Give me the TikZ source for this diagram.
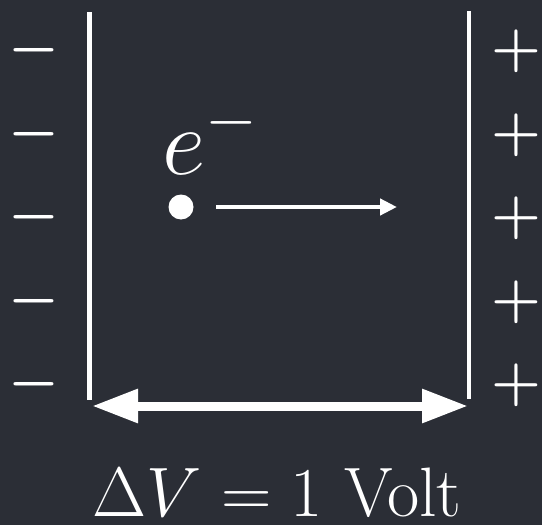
\RequirePackage{fix-cm}
\documentclass[tikz,border=0pt]{standalone}
\usepackage{amsmath}
\usetikzlibrary{arrows.meta}
\definecolor{board}{RGB}{43,46,54}

\begin{document}
\begin{tikzpicture}[
  x=1pt,y=-1pt,
  plate/.style={draw=white,line width=4.5pt},
  charge/.style={text=white,inner sep=0pt,anchor=base,
    font=\fontsize{57}{57}\selectfont\boldmath},
  span/.style={draw=white,line width=9pt,
    arrows={Triangle[length=46pt,width=32pt]-Triangle[length=46pt,width=32pt]}},
  motion/.style={draw=white,line width=4.5pt,
    arrows={-Triangle[length=17pt,width=16pt]}},
  >=Stealth
]
  % Board and fixed frame.
  \fill[board] (0,0) rectangle (542,525);
  \useasboundingbox (0,0) rectangle (542,525);

  % Plates.
  \coordinate (lefttop) at (89.5,12);
  \coordinate (leftbot) at (89.5,400);
  \coordinate (righttop) at (469,11);
  \coordinate (rightbot) at (469,399);
  \draw[plate] (lefttop) -- (leftbot);
  \draw[plate] (righttop) -- (rightbot);

  % Charges on both sides.
  \foreach \i in {0,...,4} {
    \node[charge] (minus\i) at (34,64.75+83.5*\i) {$-$};
    \node[charge] (plus\i) at (516,65.75+83.5*\i) {$+$};
  }

  % Electron and its motion.
  \node[circle,fill=white,inner sep=0pt,minimum size=25pt] (electron) at (181,207) {};
  \node[text=white,inner sep=0pt,anchor=base west,
    font=\fontsize{95}{95}\selectfont] (elabel) at (162,174) {$e^{-}$};
  \coordinate (motiontip) at (397,207);
  \draw[motion,shorten <=22.5pt] (electron) -- (motiontip);

  % Potential difference.
  \coordinate (spanleft) at (92,406);
  \coordinate (spanright) at (468,406);
  \draw[span] (spanleft) -- (spanright);
  \node[text=white,inner sep=0pt,anchor=base,
    font=\fontsize{70}{70}\selectfont] (dv) at (277,516) {$\Delta V = 1\ \mathrm{Volt}$};
\end{tikzpicture}
\end{document}
